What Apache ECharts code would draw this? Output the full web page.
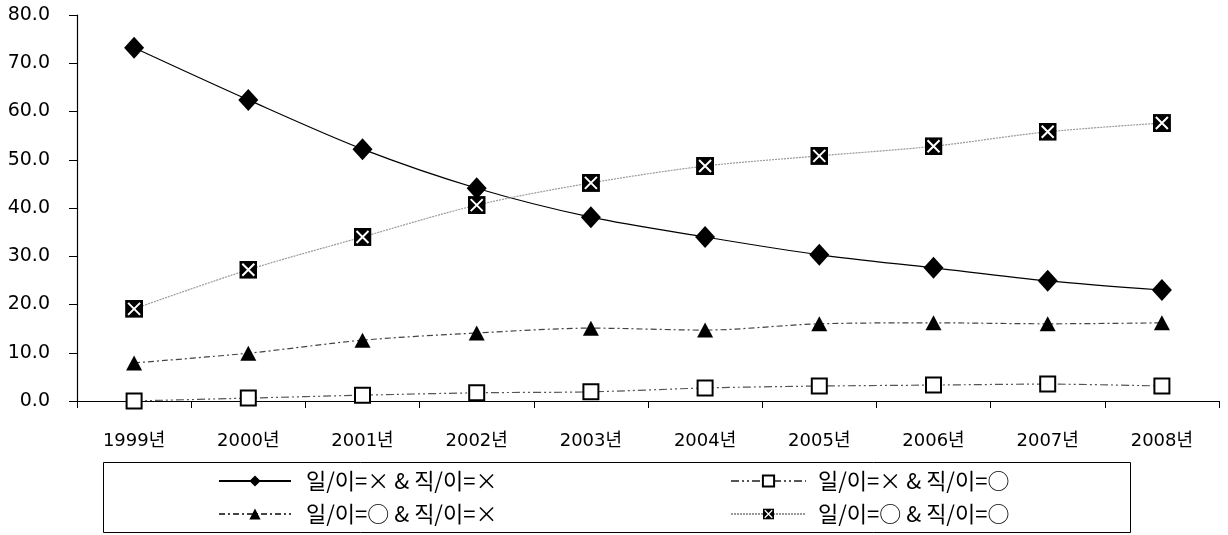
<!DOCTYPE html>
<html>
<head>
<meta charset="utf-8">
<script src="https://cdn.jsdelivr.net/npm/echarts@6/dist/echarts.min.js"></script>
<style>
  html, body { margin: 0; padding: 0; background: #fff; }
  #chart { width: 1228px; height: 535px; }
</style>
</head>
<body>
<div id="chart"></div>
<script>
const years = ['1999년', '2000년', '2001년', '2002년', '2003년', '2004년', '2005년', '2006년', '2007년', '2008년']
const yTicks = [0, 10, 20, 30, 40, 50, 60, 70, 80]

const names = [
  '일/이=× & 직/이=×',
  '일/이=× & 직/이=○',
  '일/이=○ & 직/이=×',
  '일/이=○ & 직/이=○',
]
const xx = [73.2, 62.4, 52.2, 44.1, 38.1, 34.0, 30.3, 27.6, 24.9, 23.0]
const xo = [0.0, 0.6, 1.2, 1.7, 1.9, 2.7, 3.1, 3.3, 3.5, 3.1]
const ox = [7.9, 9.9, 12.6, 14.1, 15.1, 14.7, 16.0, 16.2, 16.0, 16.2]
const oo = [19.1, 27.2, 34.0, 40.6, 45.2, 48.7, 50.8, 52.8, 55.8, 57.6]

const crossBox = 'image://data:image/svg+xml;utf8,' + encodeURIComponent(
  '<svg xmlns="http://www.w3.org/2000/svg" width="18" height="18" viewBox="0 0 18 18">' +
  '<rect width="18" height="18" fill="#000"/>' +
  '<path d="M3 3 L15 15 M15 3 L3 15" stroke="#fff" stroke-width="2"/></svg>')

const font = '"DejaVu Sans", "Noto Sans CJK KR", sans-serif'

const chart = echarts.init(document.getElementById('chart'))

const series = [
  {
    name: names[0], type: 'line', data: xx, smooth: 0.3,
    symbol: 'diamond', symbolSize: [20, 22],
    itemStyle: { color: '#000' },
    lineStyle: { color: '#000', width: 1.2 },
  },
  {
    name: names[1], type: 'line', data: xo, smooth: 0.3,
    symbol: 'rect', symbolSize: 15,
    itemStyle: { color: '#fff', borderColor: '#000', borderWidth: 2 },
    lineStyle: { color: '#555', width: 1.2, type: [8, 3, 2, 3, 2, 3] },
  },
  {
    name: names[2], type: 'line', data: ox, smooth: 0.3,
    symbol: 'triangle', symbolSize: [16, 15],
    itemStyle: { color: '#000' },
    lineStyle: { color: '#444', width: 1.2, type: [6, 3, 2, 3] },
  },
  {
    name: names[3], type: 'line', data: oo, smooth: 0.3,
    symbol: crossBox, symbolSize: 18,
    itemStyle: { color: '#000' },
    lineStyle: { color: '#999', width: 1.2, type: [2, 1] },
  },
]

// legend positions, one legend per item
const legendPos = [
  { left: 218, top: 470, w: 72, gap: 15 },
  { left: 730, top: 470, w: 75, gap: 12 },
  { left: 218, top: 503, w: 72, gap: 15 },
  { left: 730, top: 503, w: 75, gap: 12 },
]

chart.setOption({
  animation: false,
  grid: { left: 77, right: 9, top: 15, bottom: 134 },
  graphic: [{
    type: 'rect',
    shape: { x: 103.5, y: 462.5, width: 1027, height: 70 },
    style: { fill: 'none', stroke: '#000', lineWidth: 1 },
  }],
  legend: legendPos.map((p, i) => ({
    data: [names[i]],
    left: p.left, top: p.top, padding: 0,
    itemWidth: p.w, itemHeight: 14, itemGap: p.gap,
    textStyle: { fontFamily: '"Noto Sans CJK KR", sans-serif', fontSize: 22, color: '#000', padding: [0, 0, 0, p.gap - 5] },
  })),
  xAxis: {
    type: 'category',
    data: years,
    boundaryGap: true,
    axisLine: { lineStyle: { color: '#000', width: 1.2 } },
    axisTick: { show: true, length: 7, lineStyle: { color: '#000' } },
    axisLabel: { color: '#000', fontSize: 18, fontFamily: font, margin: 31 },
  },
  yAxis: {
    type: 'value',
    min: yTicks[0], max: yTicks[yTicks.length - 1], interval: 10,
    axisLine: { show: true, lineStyle: { color: '#000', width: 1.2 } },
    axisTick: { show: true, length: 8, lineStyle: { color: '#000' } },
    splitLine: { show: false },
    axisLabel: {
      color: '#000', fontSize: 19, fontFamily: font, margin: 27,
      formatter: v => v.toFixed(1),
    },
  },
  series: series,
})
</script>
</body>
</html>
